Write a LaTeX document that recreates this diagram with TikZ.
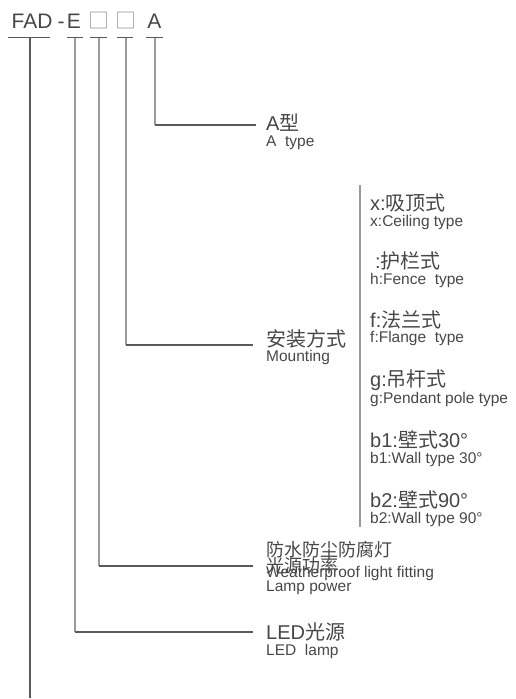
\documentclass[tikz,border=0pt]{standalone}
\usepackage{fontspec}
\setmainfont{Liberation Sans}
\newfontfamily\cjk{Noto Sans CJK SC}
\usetikzlibrary{positioning}
\definecolor{txtgray}{HTML}{474747}
\definecolor{rulegray}{HTML}{5A5A5A}
\definecolor{stemgray}{HTML}{9A9A9A}
\newcommand{\zh}[1]{{\cjk #1}}
\tikzset{
  head/.style={anchor=base, inner sep=0pt, text=txtgray, font=\fontsize{21}{21}\selectfont},
  big/.style={anchor=west, inner sep=0pt, text=txtgray, font=\fontsize{20}{20}\selectfont},
  small/.style={anchor=west, inner sep=0pt, text=txtgray, font=\fontsize{15.5}{15.5}\selectfont},
  under/.style={rulegray, line width=1pt},
  stem/.style={stemgray, line width=1.4pt},
  branch/.style={rulegray, line width=1.2pt}
}

\begin{document}
\begin{tikzpicture}[x=1pt, y=-1pt]
    \useasboundingbox (0,0) rectangle (515,699);

    % Code letters
    \node[head] (fad) at (32,28) {FAD};
    \node[head] (dash) at (61,28) {-};
    \node[head] (ecode) at (74,28) {E};
    \node[head, text=stemgray] (boxa) at (98.5,28) {\zh{□}};
    \node[head, text=stemgray] (boxb) at (125.5,28) {\zh{□}};
    \node[head] (acode) at (154.5,28) {A};

    % Underlines
    \draw[under] (8,37.5) -- (50,37.5);
    \draw[under] (67,37.5) -- (83,37.5);
    \draw[under] (90,37.5) -- (107,37.5);
    \draw[under] (117,37.5) -- (133,37.5);
    \draw[under] (146,37.5) -- (163,37.5);
    \coordinate (sfad) at (30,37.5);
    \coordinate (se) at (75,37.5);
    \coordinate (sboxa) at (99,37.5);
    \coordinate (sboxb) at (126,37.5);
    \coordinate (sa) at (155,37.5);

    % Labels
    \node[big] (atype) at (266,123) {A\zh{型}};
    \node[small] (atypeen) at (266,143) {A~ type};

    \node[big] (mount) at (266,339) {\zh{安装方式}};
    \node[small] (mounten) at (266,357) {Mounting};

    \node[big, font=\fontsize{18}{18}\selectfont] (wproof) at (266,550) {\zh{防水防尘防腐灯}};
    \node[big, font=\fontsize{18}{18}\selectfont] (power) at (266,566) {\zh{光源功率}};
    \node[small] (wproofen) at (266,573) {Weatherproof light fitting};
    \node[small] (poweren) at (266,588) {Lamp power};

    \node[big] (led) at (266,632) {LED\zh{光源}};
    \node[small] (leden) at (266,651) {LED~ lamp};

    % Mounting options
    \draw[stem] (360,185) -- (360,527);
    \node[big] (mx) at (370,203) {x:\zh{吸顶式}};
    \node[small] (mxen) at (370,222) {x:Ceiling type};
    \node[big] (mh) at (370,261) {\hspace*{5pt}:\zh{护栏式}};
    \node[small] (mhen) at (370,280) {h:Fence~ type};
    \node[big] (mf) at (370,320) {f:\zh{法兰式}};
    \node[small] (mfen) at (370,338) {f:Flange~ type};
    \node[big] (mg) at (370,380) {g:\zh{吊杆式}};
    \node[small] (mgen) at (370,399) {g:Pendant pole type};
    \node[big] (mb1) at (370,440) {b1:\zh{壁式}30°};
    \node[small] (mb1en) at (370,459) {b1:Wall type 30°};
    \node[big] (mb2) at (370,500) {b2:\zh{壁式}90°};
    \node[small] (mb2en) at (370,519) {b2:Wall type 90°};

    % Branches
    \coordinate (enda) at (256,125);
    \coordinate (endmount) at (253,345);
    \coordinate (endwp) at (253,566);
    \coordinate (endled) at (253,632);
    \coordinate (endfad) at (30,698);
    \draw[stem] (sa) -- (sa |- enda);
    \draw[stem] (sboxb) -- (sboxb |- endmount);
    \draw[stem] (sboxa) -- (sboxa |- endwp);
    \draw[stem] (se) -- (se |- endled);
    \draw[stem, rulegray] (sfad) -- (endfad);
    \draw[branch] (sa |- enda) -- (enda);
    \draw[branch] (sboxb |- endmount) -- (endmount);
    \draw[branch] (sboxa |- endwp) -- (endwp);
    \draw[branch] (se |- endled) -- (endled);
\end{tikzpicture}
\end{document}
